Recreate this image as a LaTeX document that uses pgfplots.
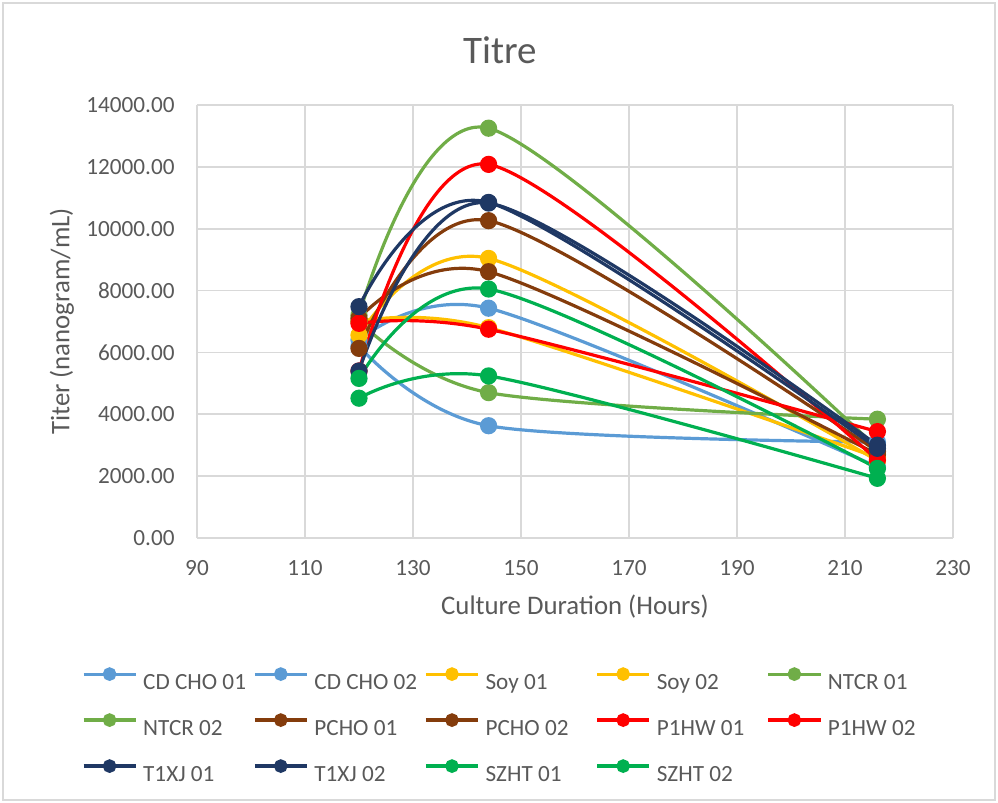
\documentclass[border=0pt]{standalone}
\usepackage{pgfplots}
\pgfplotsset{compat=1.18}
\usepackage{fontspec}
\setmainfont{Carlito}

\definecolor{txt}{HTML}{595959}
\definecolor{gridc}{HTML}{D9D9D9}
\definecolor{cblue}{HTML}{5B9BD5}
\definecolor{cyellow}{HTML}{FFC000}
\definecolor{clgreen}{HTML}{70AD47}
\definecolor{cbrown}{HTML}{843C0C}
\definecolor{cred}{HTML}{FF0000}
\definecolor{cnavy}{HTML}{1F3864}
\definecolor{cgreen}{HTML}{00B050}

\newcommand\lentry[1]{\makebox[53pt][l]{\strut #1}}

\pgfplotsset{
  ser/.style={smooth, tension=0.5, line width=1.6pt, color=#1,
    mark=*, mark size=3.5pt, mark options={solid, fill=#1, draw=#1}},
}

\begin{document}
\begin{tikzpicture}
\useasboundingbox (-98.5pt,-132.5pt) rectangle (400.5pt,269pt);
\draw[gridc, line width=0.6pt] (-97pt,-131pt) rectangle (399pt,267.5pt);
\begin{axis}[
    at={(0,0)}, anchor=south west,
    scale only axis,
    width=378pt, height=216.5pt,
    xmin=90, xmax=230, ymin=0, ymax=14000,
    xtick={90,110,...,230},
    ytick={0,2000,...,14000},
    grid=major,
    grid style={gridc, line width=0.8pt},
    axis line style={gridc, line width=0.8pt},
    axis x line*=bottom, axis y line*=left,
    major tick length=0pt,
    tick label style={font=\fontsize{11.6}{13}\selectfont, text=txt},
    /pgf/number format/assume math mode=true,
    yticklabel style={/pgf/number format/fixed, /pgf/number format/fixed zerofill,
      /pgf/number format/precision=2, /pgf/number format/1000 sep={}},
    yticklabel style={anchor=east, inner sep=0pt, xshift=-11pt},
    xticklabel style={anchor=center, inner sep=0pt, yshift=-15pt},
    scaled y ticks=false,
    title={Titre},
    every axis title/.style={at={([xshift=151.5pt,yshift=27.5pt]axis description cs:0,1)}, anchor=center,
      font=\fontsize{19.5}{22}\selectfont, text=txt},
    xlabel={Culture Duration (Hours)},
    ylabel={Titer (nanogram/mL)},
    every axis x label/.style={at={([yshift=-34.5pt]axis description cs:0.5,0)}, anchor=center,
      font=\fontsize{13.4}{16}\selectfont, text=txt},
    every axis y label/.style={at={([xshift=-67.5pt]axis description cs:0,0.5)}, anchor=center,
      rotate=90, font=\fontsize{13.4}{16}\selectfont, text=txt},
    legend columns=5,
    legend image code/.code={\draw[mark repeat=2, mark phase=2, mark size=2.6pt, #1]
      plot coordinates {(0pt,3.6pt) (13pt,3.6pt) (26pt,3.6pt)};},
    legend style={draw=none, fill=none, inner sep=0pt, outer sep=0pt,
      font=\fontsize{11.6}{14}\selectfont, text=txt,
      at={(axis description cs:0,0)}, anchor=north west,
      xshift=-57.5pt, yshift=-64pt,
      row sep=7.7pt, column sep=0pt,
      /tikz/every odd column/.append style={column sep=1pt}},
    legend cell align=left,
]
\addplot[ser=cblue]   coordinates {(120,6400) (144,7430) (216,2300)};
\addlegendentry{\lentry{CD CHO 01}}
\addplot[ser=cblue]   coordinates {(120,6200) (144,3630) (216,3100)};
\addlegendentry{\lentry{CD CHO 02}}
\addplot[ser=cyellow] coordinates {(120,6560) (144,9040) (216,2500)};
\addlegendentry{\lentry{Soy 01}}
\addplot[ser=cyellow] coordinates {(120,7000) (144,6800) (216,2600)};
\addlegendentry{\lentry{Soy 02}}
\addplot[ser=clgreen] coordinates {(120,7200) (144,13250) (216,2900)};
\addlegendentry{\lentry{NTCR 01}}
\addplot[ser=clgreen] coordinates {(120,7000) (144,4700) (216,3840)};
\addlegendentry{\lentry{NTCR 02}}
\addplot[ser=cbrown]  coordinates {(120,6130) (144,10260) (216,2800)};
\addlegendentry{\lentry{PCHO 01}}
\addplot[ser=cbrown]  coordinates {(120,7100) (144,8610) (216,2700)};
\addlegendentry{\lentry{PCHO 02}}
\addplot[ser=cred]    coordinates {(120,5400) (144,12080) (216,2520)};
\addlegendentry{\lentry{P1HW 01}}
\addplot[ser=cred]    coordinates {(120,6940) (144,6750) (216,3440)};
\addlegendentry{\lentry{P1HW 02}}
\addplot[ser=cnavy]   coordinates {(120,7480) (144,10850) (216,2900)};
\addlegendentry{\lentry{T1XJ 01}}
\addplot[ser=cnavy]   coordinates {(120,5400) (144,10830) (216,3000)};
\addlegendentry{\lentry{T1XJ 02}}
\addplot[ser=cgreen]  coordinates {(120,5160) (144,8050) (216,2250)};
\addlegendentry{\lentry{SZHT 01}}
\addplot[ser=cgreen]  coordinates {(120,4520) (144,5240) (216,1930)};
\addlegendentry{\lentry{SZHT 02}}
\end{axis}
\end{tikzpicture}
\end{document}
